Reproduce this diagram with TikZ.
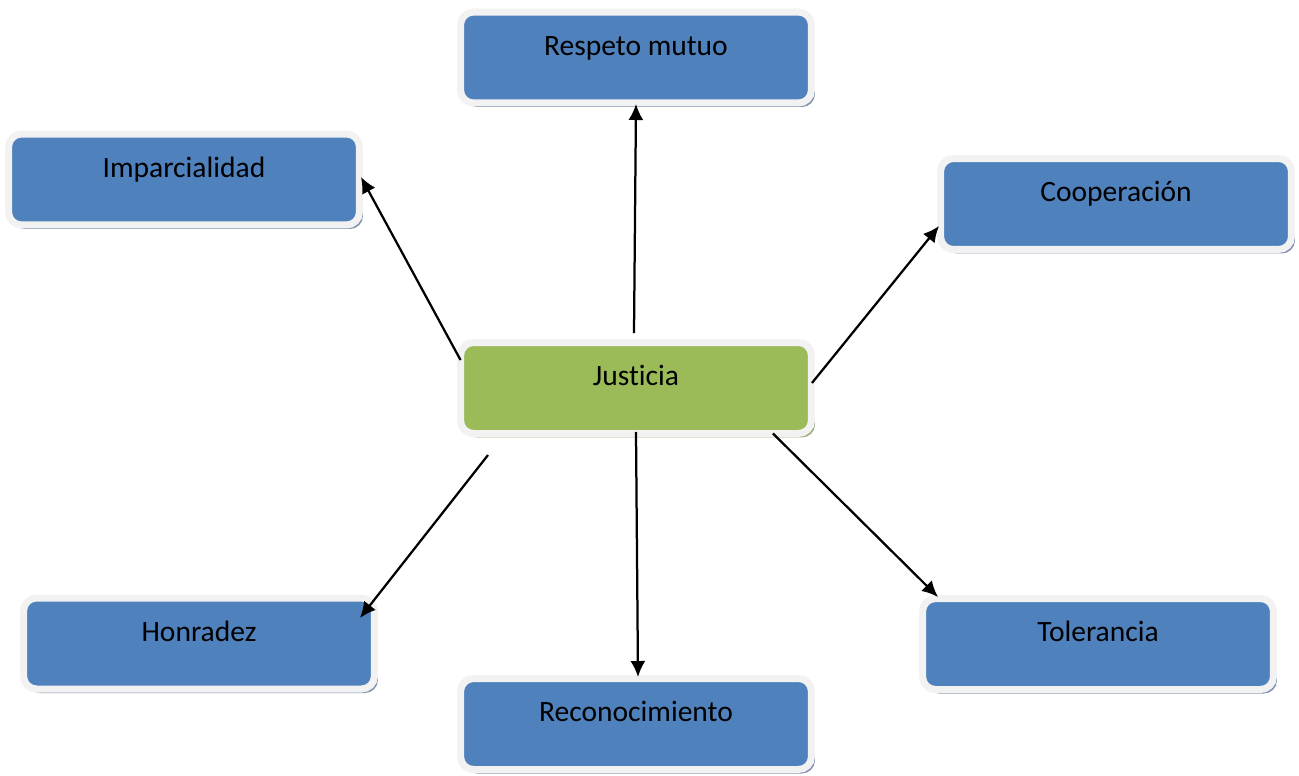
\documentclass[tikz,border=0pt]{standalone}
\usepackage{fontspec}
\setmainfont{Carlito}[Ligatures=NoCommon]
\usepackage{tikz}
\usetikzlibrary{shadows}
\usetikzlibrary{arrows.meta}

\definecolor{valorblue}{HTML}{4F81BD}
\definecolor{justgreen}{HTML}{9BBB59}
\definecolor{framegray}{HTML}{F2F2F2}
\definecolor{shadeblue}{HTML}{8293AE}
\definecolor{shadegreen}{HTML}{9DAB80}

\tikzset{
  valor/.style={rectangle, rounded corners=0.26cm, draw=framegray,
    line width=0.14cm, fill=valorblue, minimum width=7.02cm,
    minimum height=1.82cm, inner sep=0pt, outer sep=0pt,
    text height=0.4cm, text depth=0.5cm,
    font=\fontsize{16.8}{19}\selectfont,
    drop shadow={shadow xshift=0.07cm, shadow yshift=-0.08cm,
      fill=#1, opacity=1}},
  valor/.default=shadeblue,
  flecha/.style={line width=0.045cm, -{Latex[length=0.32cm,width=0.3cm]}}
}

\begin{document}
\begin{tikzpicture}[x=0.02cm,y=-0.02cm]
    \useasboundingbox (0,0) rectangle (1299,775);
    \node[valor] (resp) at (636,57.5) {Respeto mutuo};
    \node[valor] (impa) at (184,179.5) {Imparcialidad};
    \node[valor] (coop) at (1116,204) {Cooperación};
    \node[valor=shadegreen, fill=justgreen] (just) at (636,388) {Justicia};
    \node[valor] (honr) at (199,643.5) {Honradez};
    \node[valor] (reco) at (636,724) {Reconocimiento};
    \node[valor] (tole) at (1098,644) {Tolerancia};
    \draw[flecha] ([shift={(-2,-9.5)}]just.north) -- ([shift={(0,1)}]resp.south);
    \draw[flecha] ([shift={(0,-28)}]just.west) -- ([shift={(1.5,-2.5)}]impa.east);
    \draw[flecha] ([shift={(0.5,-5)}]just.east) -- ([shift={(-1.5,22)}]coop.west);
    \draw[flecha] ([shift={(27.5,21.5)}]just.south west) -- ([shift={(-14.5,-25.5)}]honr.east);
    \draw[flecha] ([shift={(0,-1.5)}]just.south) -- ([shift={(2,-1.5)}]reco.north);
    \draw[flecha] ([shift={(-38.5,0)}]just.south east) -- ([shift={(15.5,-1.5)}]tole.north west);
\end{tikzpicture}
\end{document}
